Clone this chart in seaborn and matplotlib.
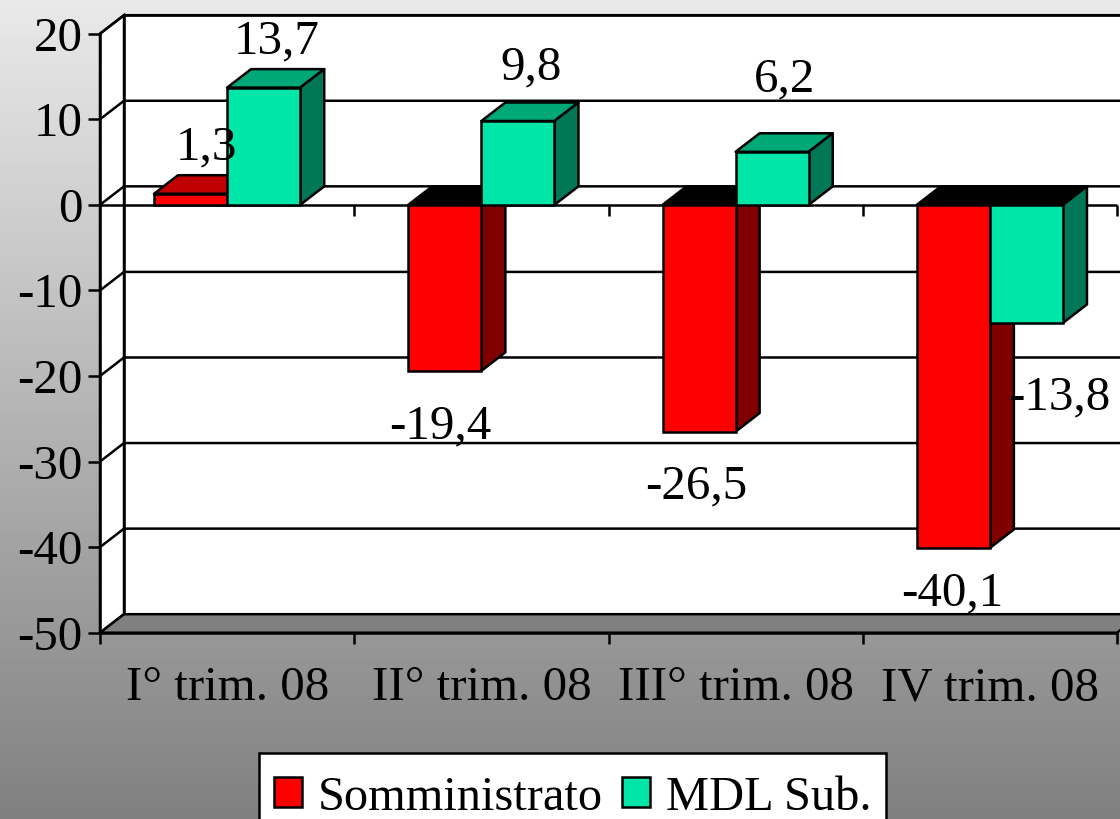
"""
3D-look clustered bars (Somministrato vs MDL Sub.) drawn with seaborn.
"""
import numpy as np
import pandas as pd
import matplotlib
matplotlib.use('Agg')
import matplotlib.pyplot as plt
import seaborn as sns
from matplotlib.patches import Polygon

quarters = ['I° trim. 08', 'II° trim. 08', 'III° trim. 08', 'IV trim. 08']
series_names = ['Somministrato', 'MDL Sub.']
somministrato = [1.3, -19.4, -26.5, -40.1]
mdl_sub = [13.7, 9.8, 6.2, -13.8]
y_ticks = [-50, -40, -30, -20, -10, 0, 10, 20]

FONT_SIZE = 35.3
LW = 1.8
W, H = 1120, 819

front = {'Somministrato': '#ff0000', 'MDL Sub.': '#00e5a8'}
side = {'Somministrato': '#800000', 'MDL Sub.': '#007858'}
top = {'Somministrato': '#c00000', 'MDL Sub.': '#00a878'}

# label offsets in pixels from the bar end, per series and quarter
label_offsets = {
    'Somministrato': [(16, 46), (-5, -56), (-3, -55), (-1, -45)],
    'MDL Sub.': [(13, 46), (13, 54), (12, 72), (33, -75)],
}


def main():
    sns.set_theme(style='white')
    plt.rcParams['font.family'] = ['Liberation Serif', 'DejaVu Serif']
    plt.rcParams['axes.unicode_minus'] = False

    df = pd.DataFrame({
        'quarter': quarters * 2,
        'series': np.repeat(series_names, len(quarters)),
        'value': somministrato + mdl_sub,
    })

    fig = plt.figure(figsize=(W / 100, H / 100), dpi=100)

    # gradient background
    bg = fig.add_axes([0, 0, 1, 1], zorder=0)
    bg.imshow(np.linspace(233, 128, 256).reshape(-1, 1), aspect='auto',
              cmap='gray', vmin=0, vmax=255)
    bg.axis('off')

    ax = fig.add_axes([100 / W, (H - 632.7) / H, 1017 / W, 599 / H], zorder=1)
    ax.patch.set_visible(False)
    sns.barplot(data=df, x='quarter', y='value', hue='series', order=quarters,
                hue_order=series_names, palette=front, saturation=1, width=0.575,
                gap=0, errorbar=None, edgecolor='black', linewidth=LW, ax=ax)
    ax.set_xlim(-0.5, 3.5)
    ax.set_ylim(-50, 20)
    ax.set_xlabel('')
    ax.set_ylabel('')

    # depth of the fake 3D box, in data units
    dx = 24 / (1017 / 4)
    dy = 18.5 / (599 / 70)
    x0, x1 = ax.get_xlim()
    y0, y1 = ax.get_ylim()
    line = dict(color='black', lw=LW, clip_on=False, solid_capstyle='butt')

    # walls and floor
    ax.add_patch(Polygon([(x0 + dx, y0 + dy), (x1 + dx, y0 + dy), (x1 + dx, y1 + dy), (x0 + dx, y1 + dy)],
                         fc='white', ec='black', lw=LW, clip_on=False, zorder=0.2))
    ax.add_patch(Polygon([(x0, y0), (x0 + dx, y0 + dy), (x0 + dx, y1 + dy), (x0, y1)],
                         fc='white', ec='black', lw=LW, clip_on=False, zorder=0.3))
    ax.add_patch(Polygon([(x0, y0), (x0 + dx, y0 + dy), (x1 + dx, y0 + dy), (x1, y0)],
                         fc='#808080', ec='black', lw=LW, clip_on=False, zorder=0.4))
    for t in y_ticks[1:]:
        ax.plot([x0, x0 + dx, x1 + dx], [t, t + dy, t + dy], zorder=0.5, **line)

    # zero axis with its own tick marks
    tick_len = 11 / (599 / 70)
    ax.plot([x0, x1], [0, 0], zorder=2.5, **line)
    for b in np.arange(x0 + 1, x1 + 0.5):
        ax.plot([b, b], [0, -tick_len], zorder=2.5, **line)

    # side and top faces for each bar, taken from the bar patches
    for i, (container, name) in enumerate(zip(ax.containers, series_names)):
        base = 3 + i
        for j, bar in enumerate(container):
            left = bar.get_x()
            right = left + bar.get_width()
            val = bar.get_height() + bar.get_y()
            low, high = min(0, val), max(0, val)
            ax.add_patch(Polygon([(left, high), (left + dx, high + dy), (right + dx, high + dy), (right, high)],
                                 fc=top[name] if val > 0 else 'black', ec='black', lw=LW,
                                 joinstyle='round', zorder=base))
            ax.add_patch(Polygon([(right, low), (right + dx, low + dy), (right + dx, high + dy), (right, high)],
                                 fc=side[name], ec='black', lw=LW, joinstyle='round', zorder=base + 0.1))
            bar.set_zorder(base + 0.2)
            off = label_offsets[name][j]
            ax.annotate(f'{val:.1f}'.replace('.', ','), ((left + right) / 2, val),
                        xytext=(off[0] * 0.72, off[1] * 0.72), textcoords='offset points',
                        ha='center', va='center', fontsize=FONT_SIZE, color='black', zorder=8)

    # axes
    sns.despine(ax=ax, top=True, right=True)
    for s in ['left', 'bottom']:
        ax.spines[s].set_color('black')
        ax.spines[s].set_linewidth(LW)
        ax.spines[s].set_zorder(0.6)
    ax.set_yticks(y_ticks)
    ax.tick_params(axis='y', left=True, length=8.5, width=LW, color='black', pad=4,
                   labelsize=FONT_SIZE, labelcolor='black')
    ax.set_xticks(range(len(quarters)))
    ax.set_xticks(np.arange(x0, x1 + 0.5), minor=True)
    ax.tick_params(axis='x', which='major', bottom=False, length=0, pad=24,
                   labelsize=FONT_SIZE, labelcolor='black')
    ax.tick_params(axis='x', which='minor', bottom=True, length=8, width=LW, color='black')

    # legend runs off the bottom edge as in the source
    sns.move_legend(ax, 'upper left', bbox_to_anchor=(259 / W, 1 - 753 / H),
                    bbox_transform=fig.transFigure, ncol=2, title=' ', title_fontsize=5.5,
                    frameon=True, fancybox=False, framealpha=1, facecolor='white',
                    edgecolor='black', fontsize=34.8, labelcolor='black',
                    borderaxespad=0, borderpad=0.3, labelspacing=0,
                    handlelength=0.58, handleheight=0.58, handletextpad=0.33,
                    columnspacing=0.4)
    leg = ax.get_legend()
    leg.get_frame().set_linewidth(LW)
    leg.set_zorder(10)
    for h in leg.get_patches():
        h.set_edgecolor('black')
        h.set_linewidth(LW)

    fig.savefig('out.png', dpi=100)
    plt.close(fig)


if __name__ == '__main__':
    main()
